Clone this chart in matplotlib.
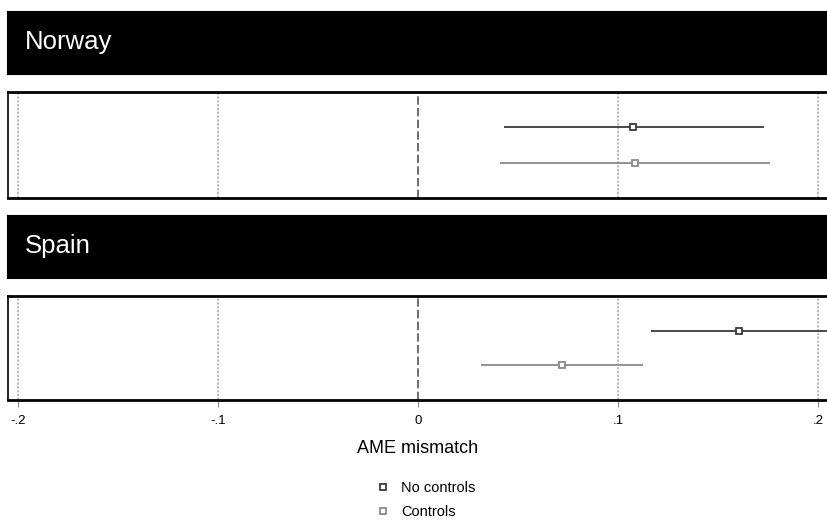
import matplotlib.pyplot as plt
import numpy as np

# AME of mismatch by country, point estimate with 95% CI
countries = ["Norway", "Spain"]
models = ["No controls", "Controls"]
est = {"Norway": [0.1075, 0.1085], "Spain": [0.1605, 0.072]}
lo = {"Norway": [0.043, 0.041], "Spain": [0.1165, 0.0315]}
hi = {"Norway": [0.173, 0.176], "Spain": [0.2045, 0.1125]}
xticks = [-0.2, -0.1, 0, 0.1, 0.2]
xticklabels = ["-.2", "-.1", "0", ".1", ".2"]

colors = ["#3a3a3a", "#8a8a8a"]
plt.rcParams['font.family'] = ['Liberation Sans', 'DejaVu Sans']

fig = plt.figure(figsize=(8.28, 5.2), dpi=100)
W, H = 828, 520


def box(x0, y0, x1, y1):
    return [x0 / W, 1 - y1 / H, (x1 - x0) / W, (y1 - y0) / H]


strips = [(11, 74), (215, 278)]
panels = [(92, 198), (296, 400)]

for i, c in enumerate(countries):
    s = fig.add_axes(box(7, strips[i][0], 828, strips[i][1]))
    s.set_facecolor("black")
    s.set_xticks([])
    s.set_yticks([])
    s.text(0.022, 0.5, c, color="white", fontsize=18.5, va="center",
           transform=s.transAxes)

    ax = fig.add_axes(box(8, panels[i][0], 828, panels[i][1]))
    ax.set_xlim(-0.205, 0.205)
    ax.set_ylim(3, 0)
    for xv in xticks:
        if xv == 0:
            ax.axvline(xv, color="#555555", lw=1.2, ls=(0, (5, 2)), zorder=0)
        else:
            ax.axvline(xv, color="#aaaaaa", lw=1.1, ls=(0, (1.5, 1)), zorder=0)
    for j in range(len(models)):
        y = j + 1
        ax.plot([lo[c][j], hi[c][j]], [y, y], color=colors[j], lw=1.3,
                solid_capstyle="butt", zorder=2)
        ax.plot(est[c][j], y, marker="s", ms=5, mfc="white",
                mec=colors[j], mew=1.3, ls="none", zorder=3,
                label=models[j] if i == 0 else None)
    ax.set_yticks([])
    for side in ["top", "bottom"]:
        ax.spines[side].set_linewidth(2)
    ax.spines["left"].set_linewidth(1.2)
    ax.spines["right"].set_visible(False)
    if i == len(countries) - 1:
        ax.set_xticks(xticks)
        ax.set_xticklabels(xticklabels, fontsize=9.5)
        ax.tick_params(axis="x", length=5, width=1, color="#999999", pad=6)
        ax.set_xlabel("AME mismatch", fontsize=13, labelpad=9)
    else:
        ax.set_xticks([])
    if i == 0:
        handles, labels = ax.get_legend_handles_labels()

leg = fig.legend(handles, labels, loc="center", bbox_to_anchor=(0.514, 0.038),
                 ncol=1, frameon=False, fontsize=10.5, handlelength=1,
                 handletextpad=0.7, labelspacing=0.7, markerscale=0.9)

fig.savefig("out.png", dpi=100)
